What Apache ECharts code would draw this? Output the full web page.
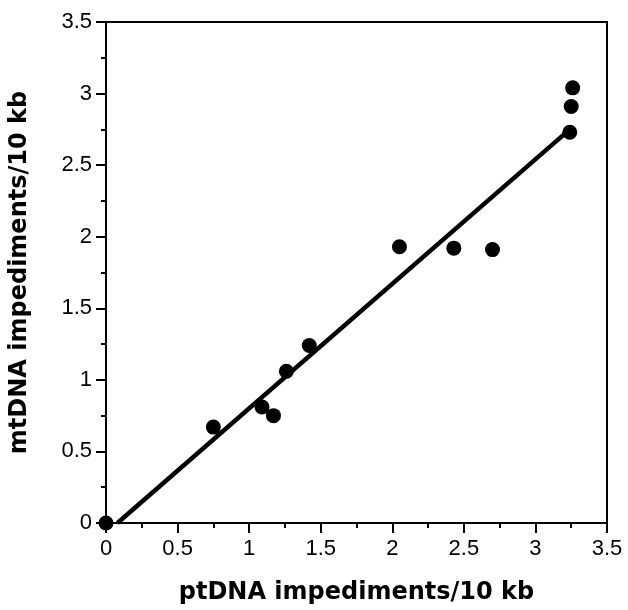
<!DOCTYPE html>
<html><head><meta charset="utf-8">
<script src="https://cdn.jsdelivr.net/npm/echarts@6/dist/echarts.min.js"></script>
<style>html,body{margin:0;padding:0;background:#fff}#c{width:628px;height:610px}</style>
</head><body><div id="c"></div>
<script>
const ptDNA = [0, 0.75, 1.09, 1.17, 1.26, 1.42, 2.05, 2.43, 2.70, 3.26, 3.25, 3.24];
const mtDNA = [0, 0.67, 0.81, 0.75, 1.06, 1.24, 1.93, 1.92, 1.91, 3.04, 2.91, 2.73];
const fitX = [0.08, 3.24];
const fitY = [0, 2.75];
const xTitle = 'ptDNA impediments/10 kb';
const yTitle = 'mtDNA impediments/10 kb';

const chart = echarts.init(document.getElementById('c'));
const font = 'Liberation Sans, Arial, sans-serif';
const titleFont = 'DejaVu Sans, Liberation Sans, sans-serif';
const axisCommon = {
  type: 'value', min: 0, max: 3.5, interval: 0.5,
  axisLine: {show: true, onZero: false, lineStyle: {color: '#000', width: 2}},
  axisTick: {show: true, inside: false, length: 10, lineStyle: {color: '#000', width: 2}},
  minorTick: {show: true, splitNumber: 2, length: 5, lineStyle: {color: '#000', width: 2}},
  splitLine: {show: false},
  axisLabel: {color: '#000', fontSize: 22, fontFamily: font},
  nameLocation: 'middle',
  nameTextStyle: {color: '#000', fontSize: 24, fontWeight: 'bold', fontFamily: titleFont}
};
chart.setOption({
  animation: false,
  backgroundColor: '#fff',
  grid: {left: 106, top: 22, width: 501, height: 501, show: true, borderColor: '#000', borderWidth: 2, backgroundColor: 'transparent'},
  xAxis: Object.assign({}, axisCommon, {name: xTitle, nameGap: 58,
    axisLabel: Object.assign({}, axisCommon.axisLabel, {margin: 15})}),
  yAxis: Object.assign({}, axisCommon, {name: yTitle, nameGap: 74,
    axisLabel: Object.assign({}, axisCommon.axisLabel, {margin: 14})}),
  series: [
    {type: 'line', data: fitX.map((x, i) => [x, fitY[i]]), symbol: 'none', lineStyle: {color: '#000', width: 4.5}, z: 2},
    {type: 'scatter', data: ptDNA.map((x, i) => [x, mtDNA[i]]), symbol: 'circle', symbolSize: 15, itemStyle: {color: '#000', opacity: 1}, clip: false, z: 3}
  ]
});
</script></body></html>
